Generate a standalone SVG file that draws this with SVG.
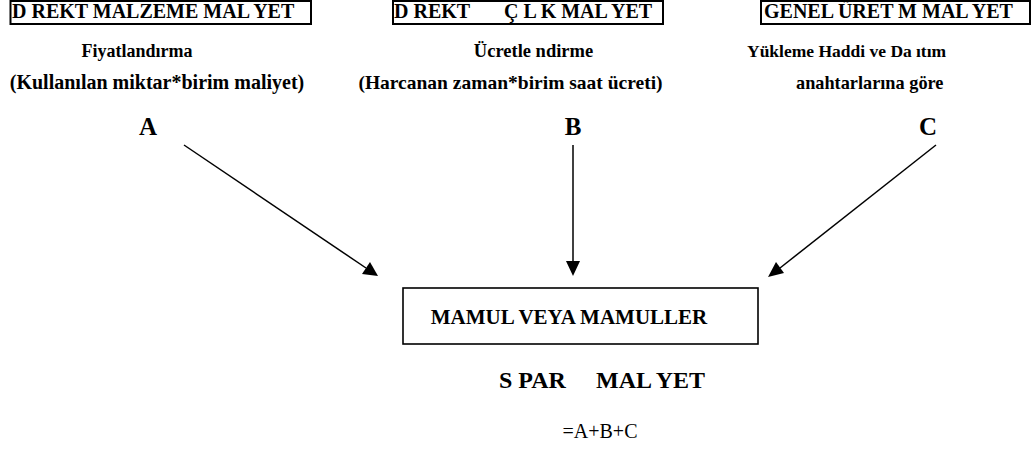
<svg xmlns="http://www.w3.org/2000/svg" width="1031" height="454" viewBox="0 0 1031 454">
<rect width="1031" height="454" fill="#fff"/>
<g id="direkt-malzeme">
<rect x="10.5" y="1" width="300.5" height="23" fill="none" stroke="#000" stroke-width="2"/>
<text font-family="Liberation Serif" font-weight="bold" font-size="20" x="12" y="18">D REKT MALZEME MAL YET</text>
<text font-family="Liberation Serif" font-weight="bold" font-size="18" x="137" y="57" text-anchor="middle">Fiyatland&#305;rma</text>
<text font-family="Liberation Serif" font-weight="bold" font-size="20" x="157" y="89" text-anchor="middle">(Kullan&#305;lan miktar*birim maliyet)</text>
<text font-family="Liberation Serif" font-weight="bold" font-size="25" x="148" y="135" text-anchor="middle">A</text>
</g>
<g id="direkt-iscilik">
<rect x="393" y="1" width="270" height="23" fill="none" stroke="#000" stroke-width="2"/>
<text font-family="Liberation Serif" font-weight="bold" font-size="20" y="18"><tspan x="394">D REKT</tspan><tspan x="504">&#199; L K MAL YET</tspan></text>
<text font-family="Liberation Serif" font-weight="bold" font-size="18.5" x="533.5" y="57" text-anchor="middle">&#220;cretle ndirme</text>
<text font-family="Liberation Serif" font-weight="bold" font-size="19.5" x="510.5" y="89" text-anchor="middle">(Harcanan zaman*birim saat &#252;creti)</text>
<text font-family="Liberation Serif" font-weight="bold" font-size="25" x="573" y="135" text-anchor="middle">B</text>
</g>
<g id="genel-uretim">
<rect x="761" y="1" width="269" height="23" fill="none" stroke="#000" stroke-width="2"/>
<text font-family="Liberation Serif" font-weight="bold" font-size="20" x="764" y="18">GENEL &#220;RET M MAL YET</text>
<text font-family="Liberation Serif" font-weight="bold" font-size="17.5" y="57"><tspan x="747">Y&#252;kleme Haddi ve Da</tspan><tspan x="916">&#305;t&#305;m</tspan></text>
<text font-family="Liberation Serif" font-weight="bold" font-size="18.3" x="796" y="89">anahtarlar&#305;na g&#246;re</text>
<text font-family="Liberation Serif" font-weight="bold" font-size="25" x="928" y="135" text-anchor="middle">C</text>
</g>
<g id="mamul">
<rect x="403" y="288" width="355" height="56" fill="none" stroke="#000" stroke-width="1.6"/>
<text font-family="Liberation Serif" font-weight="bold" font-size="21" x="569" y="324" text-anchor="middle">MAMUL VEYA MAMULLER</text>
</g>
<g id="siparis-maliyeti">
<text font-family="Liberation Serif" font-weight="bold" font-size="24" y="388"><tspan x="499">S PAR</tspan><tspan x="596">MAL YET</tspan></text>
<text font-family="Liberation Serif" font-size="20" x="600" y="438" text-anchor="middle">=A+B+C</text>
</g>
<g id="connectors" stroke="#000" stroke-width="1.5">
<line x1="184" y1="145" x2="366" y2="268"/>
<polygon points="378,276 362,274 370,262" fill="#000" stroke="none"/>
<line x1="573" y1="145" x2="573" y2="262"/>
<polygon points="573,276 566,261 580,261" fill="#000" stroke="none"/>
<line x1="936" y1="145" x2="780" y2="268"/>
<polygon points="768,277 776,262 784,273" fill="#000" stroke="none"/>
</g>
</svg>
